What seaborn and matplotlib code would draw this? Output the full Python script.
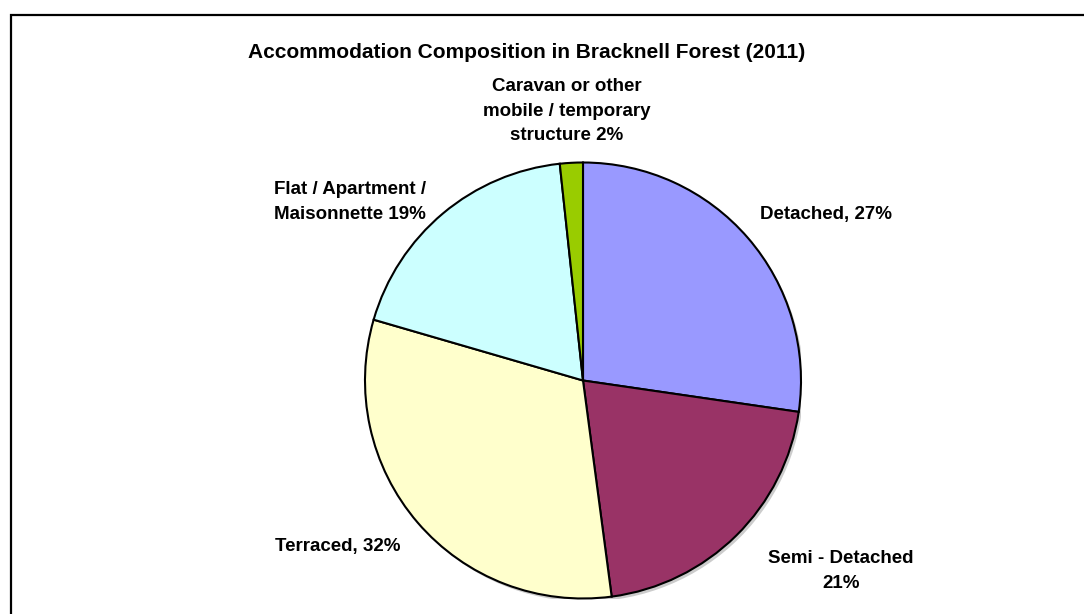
import matplotlib
matplotlib.use("Agg")
import matplotlib.pyplot as plt
from matplotlib.patches import Rectangle, Circle
import seaborn as sns

# data (percent of dwellings)
categories = ["Detached", "Semi - Detached", "Terraced",
              "Flat / Apartment / Maisonnette",
              "Caravan or other mobile / temporary structure"]
shares = [27.3, 20.6, 31.6, 18.8, 1.7]
label_names = ["Detached, ", "Semi - Detached\n", "Terraced, ",
               "Flat / Apartment /\nMaisonnette ",
               "Caravan or other\nmobile / temporary\nstructure "]
slice_colors = ["#9999FF", "#993366", "#FFFFCC", "#CCFFFF", "#99CC00"]

sns.set_theme(style="white")
plt.rcParams['font.family'] = ['Liberation Sans', 'DejaVu Sans']
plt.rcParams['text.color'] = 'black'

W, H = 1084, 614
fig = plt.figure(figsize=(W / 100, H / 100), dpi=100)

# pie centre / radius in pixels
cx, cy, R = 583, 380.5, 218
ax = fig.add_axes([(cx - R) / W, (H - cy - R) / H, 2 * R / W, 2 * R / H])

# soft shadow like the original
ax.add_patch(Circle((0.012, -0.014), 1.0, color="#9a9a9a", alpha=0.5, zorder=0, lw=0))

wedges, _ = ax.pie(shares, colors=slice_colors, startangle=90, counterclock=False,
                   wedgeprops=dict(edgecolor="black", linewidth=1.5))
for w in wedges:
    w.set_zorder(2)
ax.set_xlim(-1, 1)
ax.set_ylim(-1, 1)
ax.set_aspect("equal")
ax.axis("off")

# label positions (pixel centres)
label_pos = [(826, 215), (841, 571), (338, 547), (350, 202), (567, 111)]
for name, val, (px, py) in zip(label_names, shares, label_pos):
    ax.text((px - cx) / R, (cy - py) / R, f"{name}{val:.0f}%",
            ha="center", va="center", fontsize=13.5, fontweight="bold",
            color="black", linespacing=1.6, clip_on=False)

fig.text(527 / W, 1 - 52 / H, "Accommodation Composition in Bracknell Forest (2011)",
         ha="center", va="center", fontsize=15, fontweight="bold", color="black")

# chart frame (runs off the right and bottom edges)
fig.add_artist(Rectangle((10.5 / W, -0.1), 1.2, (H - 14.5) / H + 0.1,
                         transform=fig.transFigure, fill=False, ec="black", lw=1.6))

fig.savefig("out.png", dpi=100, facecolor="white")
